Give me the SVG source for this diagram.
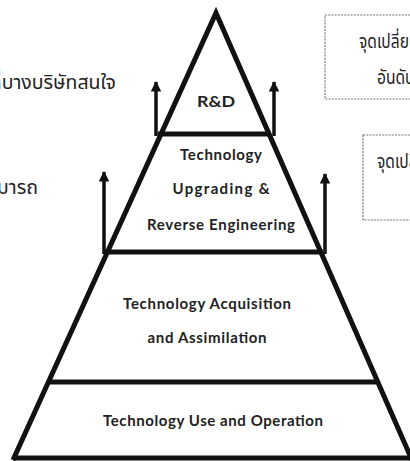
<svg xmlns="http://www.w3.org/2000/svg" width="410" height="461" viewBox="0 0 410 461">
<style>
.edge{fill:none;stroke:#111;stroke-width:5;stroke-linejoin:miter;stroke-linecap:butt}
.arr{fill:none;stroke:#111;stroke-width:3.5}
.lbl{font-family:Lato,"Liberation Sans",sans-serif;font-weight:700;font-size:15px;fill:#222;text-anchor:middle}
.th{font-family:"Noto Sans Thai","Noto Sans","DejaVu Sans",sans-serif;font-size:19.5px;fill:#222}
.box{fill:none;stroke:#777;stroke-width:1.2;stroke-dasharray:2 1.2}
</style>
<defs>
<marker id="ah" viewBox="0 0 10 10" refX="9" refY="5" markerWidth="3.6" markerHeight="3" orient="auto" markerUnits="strokeWidth">
<path d="M0,0 L10,5 L0,10 Z" fill="#111"/>
</marker>
</defs>
<rect width="410" height="461" fill="#fff"/>
<g id="side-texts">
<text class="th" x="116" y="89" text-anchor="end">ที่บางบริษัทสนใจ</text>
<text class="th" x="38" y="194" text-anchor="end">สามารถ</text>
</g>
<g id="box1">
<rect class="box" x="325" y="15" width="100" height="84"/>
<text class="th" transform="translate(359,48) scale(0.8,1)">จุดเปลี่ยน</text>
<text class="th" transform="translate(377,84) scale(0.8,1)">อันดับ</text>
</g>
<g id="box2">
<rect class="box" x="363" y="135" width="60" height="85"/>
<text class="th" transform="translate(377,168) scale(0.8,1)">จุดเปลี่ยน</text>
</g>
<g id="connectors">
<line class="arr" x1="156" y1="136" x2="156" y2="82" marker-end="url(#ah)"/>
<line class="arr" x1="274" y1="136" x2="274" y2="82" marker-end="url(#ah)"/>
<line class="arr" x1="104" y1="254" x2="104" y2="172" marker-end="url(#ah)"/>
<line class="arr" x1="325" y1="254" x2="325" y2="174" marker-end="url(#ah)"/>
</g>
<g id="pyramid">
<polyline class="edge" points="13,460 216,13 412,460"/>
<line class="edge" x1="13" y1="458" x2="410" y2="458"/>
</g>
<g id="rd">
<line class="edge" x1="158" y1="134" x2="271" y2="134"/>
<text class="lbl" x="216" y="107" textLength="38" lengthAdjust="spacingAndGlyphs">R&amp;D</text>
</g>
<g id="upgrading">
<line class="edge" x1="105" y1="252" x2="323" y2="252"/>
<text class="lbl" x="221" y="160" textLength="82" lengthAdjust="spacing">Technology</text>
<text class="lbl" x="221" y="194" textLength="97" lengthAdjust="spacing">Upgrading &amp;</text>
<text class="lbl" x="221" y="230" textLength="148" lengthAdjust="spacing">Reverse Engineering</text>
</g>
<g id="acquisition">
<line class="edge" x1="49" y1="382" x2="377" y2="382"/>
<text class="lbl" x="207" y="309" textLength="168" lengthAdjust="spacing">Technology Acquisition</text>
<text class="lbl" x="207" y="343" textLength="119" lengthAdjust="spacing">and Assimilation</text>
</g>
<g id="use">
<text class="lbl" x="213" y="426" textLength="220" lengthAdjust="spacing">Technology Use and Operation</text>
</g>
</svg>
